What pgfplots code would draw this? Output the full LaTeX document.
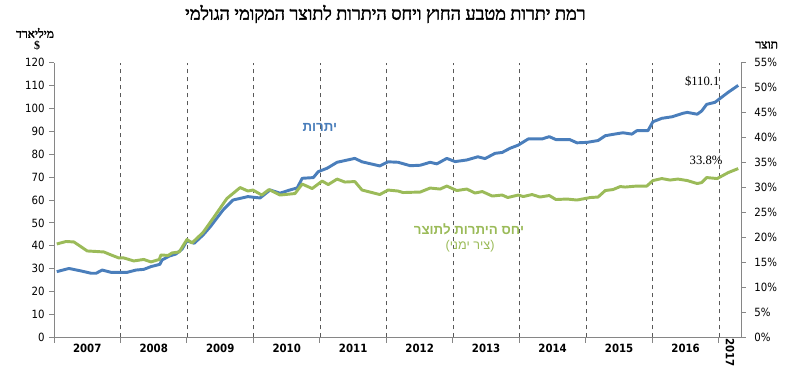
\documentclass[border=0pt]{standalone}
\usepackage{fontspec}
\usepackage{pgfplots}
\pgfplotsset{compat=1.18}
\usepackage{pgfplotstable}
\TeXXeTstate=1
\setmainfont{Liberation Serif}
\newfontfamily\heb[Script=Hebrew]{Liberation Sans}
\newfontfamily\hebserifb[Script=Hebrew, FakeBold=2.2]{Liberation Serif}
\newfontfamily\latsans{Liberation Sans}
\newfontfamily\tickf{DejaVu Sans Condensed}
\definecolor{resblue}{HTML}{4A7EBB}
\definecolor{ratgreen}{HTML}{9BBB59}
\definecolor{axgray}{HTML}{868686}

\pgfplotstableread{
m v
0.5 28.7
2.7 30.1
4.9 29
6.7 28
7.6 28
8.7 29.4
10.3 28.4
13.2 28.4
14.8 29.4
16.2 29.7
17.5 30.9
19.1 31.9
19.5 33.8
20.8 35.5
22.0 36.4
23.1 38.5
24.0 42.2
25.3 41.1
26.9 44.7
28.2 48.3
30.5 55.6
32.3 60
35.0 61.5
37.2 60.9
39.0 64.4
40.8 63
42.6 64.4
43.9 65.3
44.8 69.5
46.8 69.8
47.7 72.4
49.3 73.9
51.1 76.5
54.3 78.2
55.6 76.7
58.8 74.9
60.3 76.7
62.1 76.5
64.3 75
66.1 75.2
67.9 76.5
69.1 75.8
70.9 78.2
72.4 76.8
74.5 77.5
76.5 78.9
77.8 78.1
79.6 80.4
80.9 80.8
82.3 82.6
83.8 84
85.6 86.7
88.1 86.7
89.4 87.7
90.6 86.4
93.1 86.4
94.4 85
96.2 85.2
98.2 86
99.5 88.1
100.9 88.7
102.7 89.4
104.3 88.8
105.2 90.3
107.2 90.3
108.1 94.2
109.7 95.7
111.6 96.4
113.5 97.9
114.3 98.3
116.1 97.5
116.9 98.9
117.8 101.8
119.3 102.7
121.7 107.1
123.5 110.1
}\reserves

\pgfplotstableread{
m p
0.5 18.7
2.2 19.2
3.6 19.1
6.0 17.3
9.0 17.1
10.3 16.5
11.7 15.9
12.6 15.9
14.4 15.3
16.2 15.6
17.5 15.1
19.0 15.6
19.3 16.5
20.6 16.4
21.3 16.9
22.6 17.1
24.0 19.6
24.9 18.9
26.9 21
28.7 23.8
31.2 27.8
33.6 30
35.0 29.3
35.9 29.5
37.5 28.5
38.8 29.6
40.8 28.5
43.5 28.8
44.8 30.7
46.6 29.8
48.4 31.3
49.5 30.6
51.1 31.7
52.5 31.1
54.3 31.2
55.6 29.5
58.8 28.6
60.3 29.5
62.1 29.3
63.0 29
66.1 29.1
67.9 29.9
69.7 29.7
70.9 30.3
72.7 29.4
74.5 29.7
76.0 28.9
77.3 29.2
79.1 28.3
80.9 28.5
81.9 28
83.8 28.5
84.7 28.2
86.3 28.6
87.7 28.1
89.4 28.4
90.6 27.6
92.6 27.7
94.4 27.5
96.8 28
98.2 28.1
99.5 29.4
100.9 29.6
102.2 30.2
103.1 30.1
105.2 30.3
107.0 30.3
108.1 31.4
109.7 31.8
111.2 31.5
112.6 31.7
114.3 31.4
116.1 30.8
116.9 31
117.8 32
119.7 31.8
121.7 33
123.5 33.8
}\ratio

\begin{document}
\begin{tikzpicture}
\useasboundingbox (0,0) rectangle (600pt,283.5pt);
\begin{axis}[
  at={(40.5pt,30.5pt)}, anchor=south west,
  scale only axis, width=515.25pt, height=205.95pt,
  xmin=0, xmax=124, ymin=0, ymax=120,
  axis x line*=bottom, axis y line*=left,
  axis line style={draw=axgray, line width=0.75pt},
  every outer x axis line/.append style={-}, every outer y axis line/.append style={-},
  xtick={6,18,...,114},
  xticklabels={2007,2008,2009,2010,2011,2012,2013,2014,2015,2016},
  major x tick style={draw=none},
  minor xtick={0,12,...,120},
  minor x tick style={draw=axgray, line width=0.75pt},
  minor tick length=4pt,
  xminorgrids=true,
  minor x grid style={dashed, draw=black!65, line width=0.5pt},
  xticklabel style={font=\tickf\bfseries\fontsize{8.5}{10}\selectfont, yshift=2pt},
  ytick={0,10,...,120},
  yticklabels={0,10,20,30,40,50,60,70,80,90,100,110,120},
  yticklabel style={font=\tickf\fontsize{8.5}{10}\selectfont},
  tick align=outside, major tick length=3.5pt,
  major y tick style={draw=axgray, line width=0.75pt},
  clip=false,
]
\addplot[resblue, line width=2.2pt, line join=round] table[x=m, y=v] {\reserves};
\node[font=\fontsize{9.5}{11}\selectfont] at (axis cs:117,112) {\$110.1};
\node[font=\fontsize{9.5}{11}\selectfont] at (axis cs:117.7,77.5) {33.8\%};
\node[font=\heb\bfseries\fontsize{10}{12}\selectfont, text=resblue] at (axis cs:48,91.5) {\beginR יתרות\endR};
\node[font=\heb\bfseries\fontsize{10}{12}\selectfont, text=ratgreen] at (axis cs:74.9,47.3) {\beginR יחס היתרות לתוצר\endR};
\node[font=\heb\fontsize{9.5}{11}\selectfont, text=ratgreen] at (axis cs:75.1,39.9) {{\latsans(}\beginR ציר ימני\endR{\latsans)}};
\node[font=\tickf\bfseries\fontsize{8.5}{10}\selectfont, rotate=-90] at (axis cs:122,-6.5) {2017};
\end{axis}
\begin{axis}[
  at={(40.5pt,30.5pt)}, anchor=south west,
  scale only axis, width=515.25pt, height=205.95pt,
  xmin=0, xmax=124, ymin=0, ymax=55,
  axis x line=none, axis y line*=right,
  axis line style={draw=axgray, line width=0.75pt},
  every outer y axis line/.append style={-},
  ytick={0,5,...,55},
  yticklabels={0\%,5\%,10\%,15\%,20\%,25\%,30\%,35\%,40\%,45\%,50\%,55\%},
  yticklabel style={font=\tickf\fontsize{8.5}{10}\selectfont, xshift=3pt},
  tick align=outside, major tick length=3.5pt,
  major y tick style={draw=axgray, line width=0.75pt},
]
\addplot[ratgreen, line width=2.2pt, line join=round] table[x=m, y=p] {\ratio};
\end{axis}
\node[font=\hebserifb\fontsize{13.5}{15}\selectfont] at (289pt,273pt) {\beginR רמת יתרות מטבע החוץ ויחס היתרות לתוצר המקומי הגולמי\endR};
\node[font=\hebserifb\fontsize{9}{11}\selectfont] at (26.25pt,258.75pt) {\beginR מיליארד\endR};
\node[font=\bfseries\fontsize{9}{11}\selectfont] at (27.75pt,249pt) {\$};
\node[font=\hebserifb\fontsize{9}{11}\selectfont] at (575pt,249.75pt) {\beginR תוצר\endR};
\end{tikzpicture}
\end{document}
